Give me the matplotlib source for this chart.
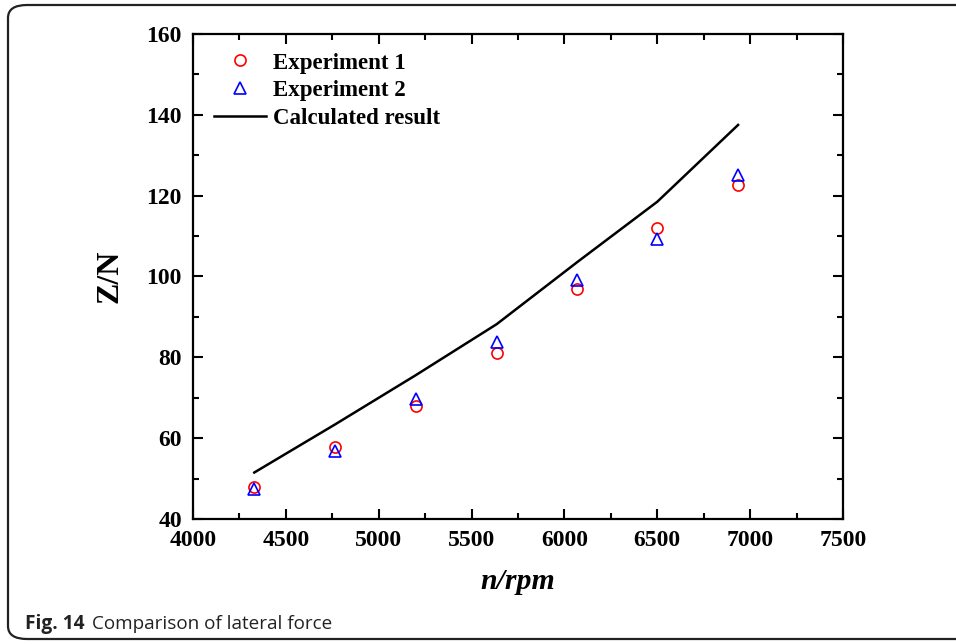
import matplotlib.pyplot as plt
from matplotlib.patches import FancyBboxPatch
from matplotlib.ticker import MultipleLocator

# rotational speed (rpm)
speed = [4330, 4765, 5200, 5635, 6070, 6500, 6935]
# lateral force (N)
exp1 = [48.0, 57.7, 68.0, 81.0, 96.8, 112.0, 122.6]
exp2 = [47.5, 56.8, 69.8, 83.8, 99.1, 109.4, 125.1]
calc = [51.5, 63.4, 75.6, 88.2, 103.6, 118.5, 137.5]

plt.rcParams['font.family'] = ['Liberation Serif', 'DejaVu Serif']
plt.rcParams['font.weight'] = 'bold'

fig = plt.figure(figsize=(9.56, 6.44), dpi=100)

# rounded frame around the figure
frame = FancyBboxPatch((8 / 956, 5 / 644), 1.2, 634 / 644,
                       boxstyle="round,pad=0,rounding_size=0.02",
                       transform=fig.transFigure, fill=False,
                       edgecolor="#222222", linewidth=1.6, clip_on=False)
fig.patches.append(frame)

ax = fig.add_axes([193 / 956, 125 / 644, 650 / 956, 485 / 644])

ax.plot(speed, exp1, linestyle='none', marker='o', markersize=8,
        markerfacecolor='none', markeredgecolor='red', markeredgewidth=1.2,
        label='Experiment 1')
ax.plot(speed, exp2, linestyle='none', marker='^', markersize=9,
        markerfacecolor='none', markeredgecolor='blue', markeredgewidth=1.2,
        label='Experiment 2')
ax.plot(speed, calc, color='black', linewidth=1.8, label='Calculated result')

ax.set_xlim(4000, 7500)
ax.set_ylim(40, 160)
ax.xaxis.set_major_locator(MultipleLocator(500))
ax.xaxis.set_minor_locator(MultipleLocator(250))
ax.yaxis.set_major_locator(MultipleLocator(20))
ax.yaxis.set_minor_locator(MultipleLocator(10))
ax.tick_params(which='both', direction='in', top=True, right=True, width=1.5)
ax.tick_params(which='major', length=7, labelsize=17, pad=8)
ax.tick_params(which='minor', length=4)
for s in ax.spines.values():
    s.set_linewidth(1.6)

ax.set_xlabel('n/rpm', fontsize=21.5, fontstyle='italic', fontweight='bold', labelpad=12)
ax.set_ylabel('Z/N', fontsize=23, fontweight='bold', labelpad=16)

ax.legend(loc='upper left', frameon=False, fontsize=16.5, handlelength=2.25,
          borderaxespad=0.3, labelspacing=0.3, handletextpad=0.3,
          bbox_to_anchor=(0.008, 0.995))

fig.text(25 / 956, 1 - 624 / 644, 'Fig. 14', fontsize=13.8, fontweight='bold',
         family=['Open Sans', 'DejaVu Sans'], va='center', color='#222222')
fig.text(92 / 956, 1 - 624 / 644, 'Comparison of lateral force', fontsize=13.6,
         fontweight='normal', family=['Open Sans', 'DejaVu Sans'], va='center',
         color='#222222')

fig.savefig('out.png', dpi=100)
